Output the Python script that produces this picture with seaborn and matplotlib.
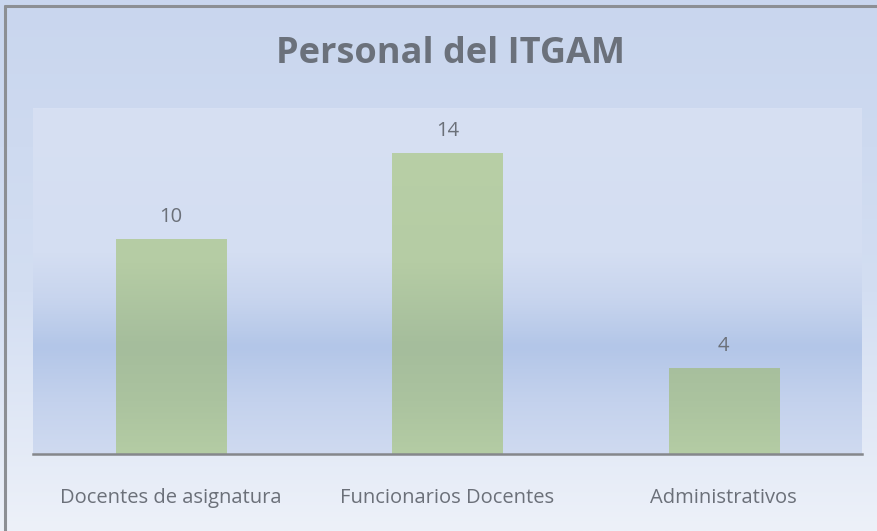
import numpy as np
import pandas as pd
import matplotlib
matplotlib.use("Agg")
import matplotlib.pyplot as plt
from matplotlib.colors import LinearSegmentedColormap
import seaborn as sns

categories = ["Docentes de asignatura", "Funcionarios Docentes", "Administrativos"]
values = [10, 14, 4]
title = "Personal del ITGAM"

df = pd.DataFrame({"categoria": categories, "personal": values})

sns.set_theme(style="white")
plt.rcParams["font.family"] = ["Open Sans", "DejaVu Sans"]

fig = plt.figure(figsize=(8.78, 5.31), dpi=100)

# figure background gradient
bg = fig.add_axes([0, 0, 1, 1], zorder=-10)
bg_cmap = LinearSegmentedColormap.from_list("bg", [(0, "#C9D6EE"), (0.55, "#D3DEF2"), (1, "#EDF1F9")])
bg.imshow(np.linspace(0, 1, 256).reshape(-1, 1), aspect="auto", cmap=bg_cmap,
          extent=[0, 1, 0, 1], origin="upper")
bg.set_xlim(0, 1); bg.set_ylim(0, 1)
bg.axis("off")
bg.plot([0.0057, 0.0057], [0, 0.989], color="#8C8F94", lw=2.2)
bg.plot([0.0057, 1.0], [0.989, 0.989], color="#8C8F94", lw=2.2)

ax = fig.add_axes([33 / 878, 1 - 453.5 / 531, (862 - 33) / 878, (453.5 - 107.7) / 531])
ax.set_facecolor("none")

sns.barplot(data=df, x="categoria", y="personal", color="#B0C8A1", width=0.4,
            saturation=1, ax=ax, zorder=2, linewidth=0, edgecolor="none")
ax.set_ylim(0, 16.1)
xl = ax.get_xlim()
ax.set_xlim(xl)

grad = np.linspace(0, 1, 256).reshape(-1, 1)
pa_cmap = LinearSegmentedColormap.from_list(
    "pa", [(0, "#D7E0F3"), (0.42, "#D4DEF2"), (0.55, "#C8D5EE"), (0.69, "#B3C6E8"),
           (0.85, "#C4D2ED"), (1, "#CFDAF0")])
ax.imshow(grad, aspect="auto", cmap=pa_cmap, extent=[xl[0], xl[1], 0, 16.1],
          origin="upper", zorder=0)

bar_cmap = LinearSegmentedColormap.from_list(
    "bar", [(0, "#B9D0A7"), (0.45, "#B5CCA4"), (0.69, "#A5BD9C"), (0.85, "#ABC39F"), (1, "#B4CCA4")])
for p in ax.patches:
    im = ax.imshow(grad, aspect="auto", cmap=bar_cmap, extent=[xl[0], xl[1], 0, 16.1],
                   origin="upper", zorder=3)
    im.set_clip_path(p)
ax.set_ylim(0, 16.1)

for p, v in zip(ax.patches, values):
    ax.annotate(f"{v}", (p.get_x() + p.get_width() / 2, p.get_height()),
                xytext=(0, 15.5), textcoords="offset points", ha="center", va="center",
                fontsize=14.5, color="#6B7079", zorder=5)

for s in ["top", "right", "left"]:
    ax.spines[s].set_visible(False)
ax.spines["bottom"].set_color("#85878B")
ax.spines["bottom"].set_linewidth(1.8)
ax.spines["bottom"].set_zorder(6)
ax.set_yticks([])
ax.set_xlabel(""); ax.set_ylabel("")
ax.tick_params(axis="x", length=0, pad=25, labelsize=14.5, labelcolor="#6B7079")

fig.text(451 / 878, 1 - 54 / 531, title, ha="center", va="center", fontsize=26,
         fontweight="bold", color="#6B717B")

fig.savefig("out.png", dpi=100)
